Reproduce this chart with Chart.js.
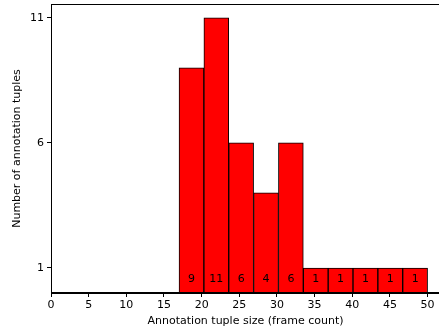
<!DOCTYPE html>
<html><head><meta charset="utf-8">
<script src="https://cdn.jsdelivr.net/npm/chart.js@4"></script>
<style>html,body{margin:0;padding:0;background:#fff;overflow:hidden}#wrap{width:439px;height:334px;overflow:hidden}</style>
</head><body><div id="wrap"><canvas id="c" width="440" height="334"></canvas></div>
<script>
const binEdges = [17, 20.3, 23.6, 26.9, 30.2, 33.5, 36.8, 40.1, 43.4, 46.7, 50];
const counts = [9, 11, 6, 4, 6, 1, 1, 1, 1, 1];
const xTicks = [0, 5, 10, 15, 20, 25, 30, 35, 40, 45, 50];
const yTicks = [1, 6, 11];

const pts = counts.map((c, i) => ({x: (binEdges[i] + binEdges[i + 1]) / 2, y: c}));
const FONT = 'DejaVu Sans';

const frame = {
  id: 'frame',
  afterDatasetsDraw(chart) {
    const {ctx, chartArea: a, scales} = chart;
    ctx.save();
    ctx.font = '11px ' + FONT;
    ctx.fillStyle = '#000';
    ctx.textAlign = 'center';
    ctx.textBaseline = 'middle';
    counts.forEach((c, i) => {
      ctx.fillText(String(c), scales.x.getPixelForValue(pts[i].x), scales.y.getPixelForValue(0.55));
    });
    ctx.strokeStyle = '#000';
    ctx.lineWidth = 1;
    ctx.strokeRect(a.left + 0.5, a.top + 0.5, a.right - a.left - 1, a.bottom - a.top - 1);
    ctx.restore();
  }
};

new Chart(document.getElementById('c'), {
  type: 'bar',
  data: {datasets: [{
    data: pts,
    backgroundColor: '#ff0000',
    borderColor: '#000',
    borderWidth: 1,
    barPercentage: 1,
    categoryPercentage: 1,
    borderSkipped: false
  }]},
  options: {
    responsive: false,
    animation: false,
    devicePixelRatio: 1,
    layout: {padding: {top: 4, right: 0, left: 0, bottom: 0}},
    plugins: {legend: {display: false}, tooltip: {enabled: false}},
    scales: {
      x: {
        type: 'linear', min: 0, max: 51.65, offset: false,
        afterBuildTicks: s => { s.ticks = xTicks.map(v => ({value: v})); },
        afterFit: s => { s.height = 41; s.paddingLeft = 0; s.paddingRight = 0; },
        grid: {drawOnChartArea: false, tickLength: 4, color: '#000', offset: false},
        border: {color: '#000'},
        ticks: {color: '#000', font: {family: FONT, size: 11}, padding: 2, maxRotation: 0, autoSkip: false},
        title: {display: true, text: 'Annotation tuple size (frame count)', color: '#000', font: {family: FONT, size: 11}, padding: {top: 2, bottom: 6}}
      },
      y: {
        type: 'linear', min: 0, max: 11.55,
        afterBuildTicks: s => { s.ticks = yTicks.map(v => ({value: v})); },
        afterFit: s => { s.width = 51; s.paddingTop = 0; s.paddingBottom = 0; },
        grid: {drawOnChartArea: false, tickLength: 4, color: '#000'},
        border: {color: '#000'},
        ticks: {color: '#000', font: {family: FONT, size: 11}, padding: 3},
        title: {display: true, text: 'Number of annotation tuples', color: '#000', font: {family: FONT, size: 11}, padding: {top: 11, bottom: 6}}
      }
    }
  },
  plugins: [frame]
});
</script></body></html>
